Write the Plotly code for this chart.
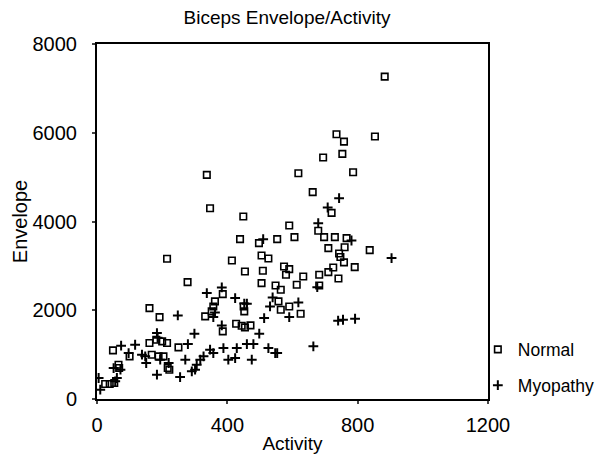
import plotly.graph_objects as go

normal_x = [883, 735, 758, 853, 753, 694, 786, 618, 337, 662, 347, 449, 720, 590, 439, 553, 606, 497,
            679, 697, 730, 766, 837, 710, 743, 747, 758, 760, 215, 414, 505, 526, 791, 454, 509, 574,
            590, 580, 633, 682, 710, 725, 741, 278, 505, 613, 548, 564, 682, 386, 362, 357, 352, 332,
            386, 161, 192, 450, 452, 427, 444, 454, 471, 557, 564, 590, 625, 161, 182, 200, 215, 250,
            168, 189, 204, 217, 222, 49, 100, 66, 68, 25, 39, 53]
normal_y = [7265, 5967, 5801, 5914, 5524, 5441, 5111, 5088, 5051, 4661, 4300, 4113, 4195, 3910, 3602,
            3602, 3647, 3512, 3790, 3647, 3647, 3625, 3355, 3400, 3280, 3200, 3080, 3420, 3160, 3122,
            3235, 3167, 2972, 2874, 2889, 2987, 2927, 2799, 2762, 2799, 2859, 2964, 2717, 2634, 2612,
            2574, 2559, 2462, 2559, 2364, 2199, 2086, 1974, 1861, 1524, 2049, 1846, 2086, 1974, 1696,
            1651, 1614, 1659, 2199, 2011, 2086, 1921, 1261, 1336, 1298, 1261, 1163, 998, 961, 961, 698,
            660, 1096, 961, 773, 698, 338, 338, 360]

myo_x = [743, 708, 679, 781, 904, 510, 337, 383, 424, 460, 539, 531, 618, 590, 513, 740, 755, 792,
         664, 383, 498, 357, 248, 299, 184, 279, 388, 429, 460, 480, 526, 547, 553, 347, 357, 327,
         317, 306, 291, 301, 403, 424, 475, 271, 255, 184, 148, 151, 138, 117, 74, 97, 220, 194,
         51, 72, 61, 56, 5, 10, 186, 362, 452, 676]
myo_y = [4525, 4315, 3963, 3572, 3175, 3602, 2387, 2514, 2274, 2146, 2289, 2086, 2176, 1846, 1824,
         1764, 1786, 1809, 1186, 1659, 1471, 1846, 1884, 1471, 1486, 1238, 1148, 1148, 1238, 1238,
         1148, 1036, 1036, 1111, 1036, 961, 886, 773, 623, 660, 886, 923, 886, 886, 495, 548, 961,
         811, 998, 1223, 1201, 1036, 811, 886, 698, 660, 473, 398, 473, 210, 1380, 1950, 2150, 2520]

x_ticks = [0, 400, 800, 1200]
y_ticks = [0, 2000, 4000, 6000, 8000]

fig = go.Figure()
fig.add_trace(go.Scatter(
    x=normal_x, y=normal_y, mode="markers", name="Normal", legendgroup="n",
    marker=dict(symbol="square-open", size=6.5, color="black", line=dict(width=1.6, color="black")),
))
fig.add_trace(go.Scatter(
    x=myo_x, y=myo_y, mode="markers", name="Myopathy", legendgroup="m",
    marker=dict(symbol="cross-thin-open", size=7, color="black", line=dict(width=2, color="black")),
))

W, H = 599, 460  # page body adds an 8px offset
font = "Liberation Sans, Arial, sans-serif"
fig.update_layout(
    width=W, height=H,
    margin=dict(l=89, r=119, t=36, b=69, autoexpand=False),
    paper_bgcolor="white", plot_bgcolor="white",
    font=dict(family=font, color="black", size=19),
    title=dict(text="Biceps Envelope/Activity", x=(287 - 8) / W, xref="container", xanchor="center",
               y=1 - 3 / H, yref="container", yanchor="top", pad=dict(t=0, b=0, l=0, r=0),
               font=dict(size=19, color="black")),
    showlegend=True,
    legend=dict(x=0.974, xanchor="left", y=0.19, yanchor="top", traceorder="grouped",
                tracegroupgap=10, font=dict(size=17.5, color="black"), itemwidth=30,
                bgcolor="rgba(0,0,0,0)"),
    xaxis=dict(range=[0, 1200], tickvals=x_ticks, ticks="outside", ticklen=3, tickwidth=2,
               showline=True, linecolor="black", linewidth=2, mirror=True, showgrid=False,
               zeroline=False, automargin=False, ticklabelstandoff=4,
               title=dict(text="Activity", standoff=2, font=dict(size=19, color="black")),
               tickfont=dict(size=20, color="black")),
    yaxis=dict(range=[0, 8000], tickvals=y_ticks, ticks="outside", ticklen=3, tickwidth=2,
               showline=True, linecolor="black", linewidth=2, mirror=True, showgrid=False,
               zeroline=False, automargin=False, ticklabelstandoff=11,
               title=dict(text="Envelope", standoff=0, font=dict(size=20, color="black")),
               tickfont=dict(size=20, color="black")),
)

fig.write_html("out.html")
